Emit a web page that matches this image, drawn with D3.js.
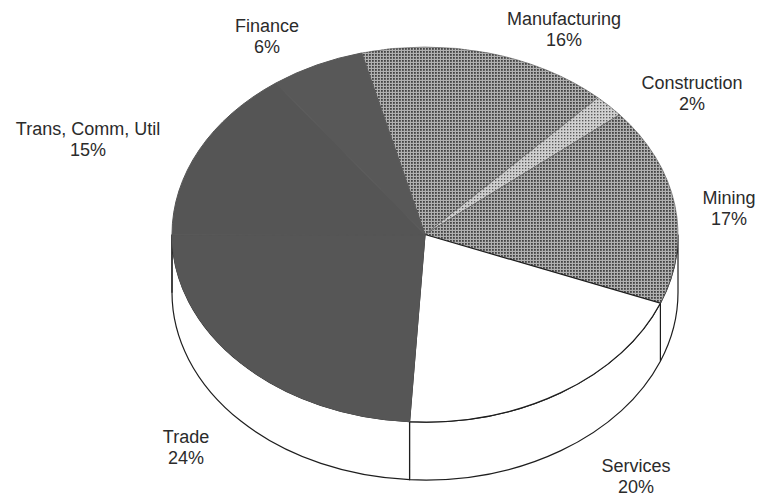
<!DOCTYPE html>
<html>
<head>
<meta charset="utf-8">
<script src="https://cdn.jsdelivr.net/npm/d3@7"></script>
<style>
  body { margin: 0; background: #fff; }
  text { font-family: "Liberation Sans", Arial, sans-serif; font-size: 18px; fill: #2b2b2b; }
</style>
</head>
<body>
<div id="container"></div>
<script>
const sectors = ["Manufacturing", "Construction", "Mining", "Services", "Trade", "Trans, Comm, Util", "Finance"];
const shares = [16, 2, 17, 20, 24, 15, 6];

const width = 757, height = 497;
const cx = 425, cy = 234.5, rx = 253, ry = 187.5, depth = 58;
const start = -14.5 * Math.PI / 180;

const fills = {
  "Manufacturing": "url(#dots)",
  "Construction": "url(#dotsLight)",
  "Mining": "url(#dots)",
  "Services": "#fff",
  "Trade": "#565656",
  "Trans, Comm, Util": "#555555",
  "Finance": "#585858"
};

// label anchors (centre x, first baseline)
const labelAt = {
  "Manufacturing": [564, 25],
  "Construction": [692, 89],
  "Mining": [729, 204],
  "Services": [636, 472],
  "Trade": [186, 443],
  "Trans, Comm, Util": [88, 135],
  "Finance": [267, 32]
};

const svg = d3.select("#container").append("svg")
  .attr("width", width)
  .attr("height", height);

const defs = svg.append("defs");
const dots = defs.append("pattern").attr("id", "dots")
  .attr("width", 3).attr("height", 3).attr("patternUnits", "userSpaceOnUse");
dots.append("rect").attr("width", 3).attr("height", 3).attr("fill", "#b0b0b0");
dots.append("rect").attr("width", 1.8).attr("height", 1.8).attr("fill", "#424242");

const light = defs.append("pattern").attr("id", "dotsLight")
  .attr("width", 3).attr("height", 3).attr("patternUnits", "userSpaceOnUse");
light.append("rect").attr("width", 3).attr("height", 3).attr("fill", "#d2d2d2");
light.append("rect").attr("width", 1.4).attr("height", 1.4).attr("fill", "#5a5a5a");

const pie = d3.pie()
  .sort(null)
  .value(d => d.value)
  .startAngle(start)
  .endAngle(start + 2 * Math.PI);

const arcs = pie(sectors.map((s, i) => ({ name: s, value: shares[i] })));

// point on the tilted rim for a pie angle (0 = 12 o'clock, clockwise)
const pt = (a, dy = 0) => [cx + rx * Math.cos(a - Math.PI / 2), cy + dy + ry * Math.sin(a - Math.PI / 2)];

function sidePath(d) {
  const a0 = Math.max(d.startAngle, Math.PI / 2);
  const a1 = Math.min(d.endAngle, 3 * Math.PI / 2);
  if (a1 <= a0) return null;
  const p0 = pt(a0), p1 = pt(a1), q1 = pt(a1, depth), q0 = pt(a0, depth);
  return `M${p0}A${rx},${ry} 0 0 1 ${p1}L${q1}A${rx},${ry} 0 0 0 ${q0}Z`;
}

function topPath(d) {
  const p0 = pt(d.startAngle), p1 = pt(d.endAngle);
  const large = d.endAngle - d.startAngle > Math.PI ? 1 : 0;
  return `M${cx},${cy}L${p0}A${rx},${ry} 0 ${large} 1 ${p1}Z`;
}

const dark = name => fills[name].startsWith("#5");

svg.append("g").selectAll("path")
  .data(arcs.filter(d => sidePath(d)))
  .enter().append("path")
  .attr("d", sidePath)
  .attr("fill", "#fff")
  .attr("stroke", "#1e1e1e")
  .attr("stroke-width", 1.2);

svg.append("g").selectAll("path")
  .data(arcs)
  .enter().append("path")
  .attr("d", topPath)
  .attr("fill", d => fills[d.data.name])
  .attr("stroke", d => d.data.name === "Services" ? "#1e1e1e" : dark(d.data.name) ? fills[d.data.name] : "#555")
  .attr("stroke-width", d => d.data.name === "Services" ? 1.2 : dark(d.data.name) ? 1 : 0.6);

const labels = svg.append("g").selectAll("text")
  .data(arcs)
  .enter().append("text")
  .attr("text-anchor", "middle")
  .attr("transform", d => `translate(${labelAt[d.data.name]})`);

labels.append("tspan")
  .attr("x", 0)
  .text(d => d.data.name);

labels.append("tspan")
  .attr("x", 0)
  .attr("dy", 21)
  .text(d => d.data.value + "%");
</script>
</body>
</html>
